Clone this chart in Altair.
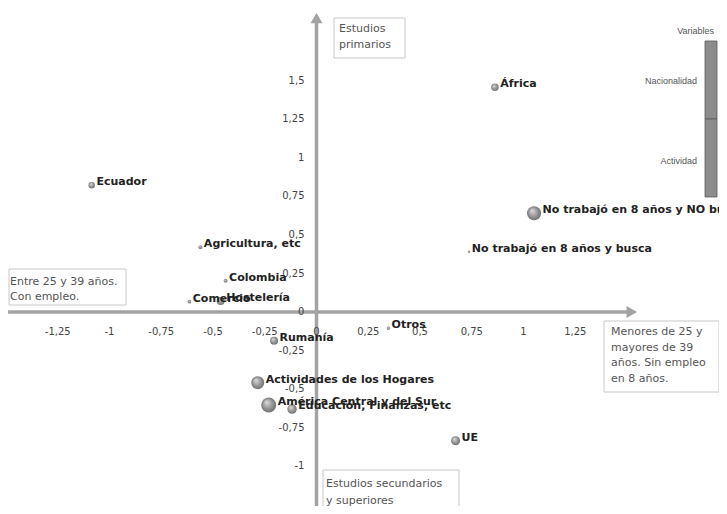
import altair as alt
import pandas as pd

# ---------------- data ----------------
labels = ["África", "Ecuador", "Agricultura, etc", "Colombia", "Comercio", "Hostelería",
          "No trabajó en 8 años y NO busca", "No trabajó en 8 años y busca", "Otros", "Rumanía",
          "Actividades de los Hogares", "América Central y del Sur", "Educación, Finanzas, etc", "UE"]
dim1 = [0.862, -1.086, -0.561, -0.439, -0.614, -0.463, 1.051, 0.737, 0.347, -0.205,
        -0.284, -0.231, -0.118, 0.672]
dim2 = [1.459, 0.823, 0.420, 0.203, 0.067, 0.071, 0.641, 0.392, -0.106, -0.186,
        -0.459, -0.604, -0.630, -0.836]
sizes = [56, 42, 16, 16, 14, 64, 196, 6, 12, 64, 169, 225, 90, 81]

x_ticks = [-1.25, -1, -0.75, -0.5, -0.25, 0, 0.25, 0.5, 0.75, 1, 1.25]
x_tick_labels = ["-1,25", "-1", "-0,75", "-0,5", "-0,25", "0", "0,25", "0,5", "0,75", "1", "1,25"]
y_ticks = [-1, -0.75, -0.5, -0.25, 0, 0.25, 0.5, 0.75, 1, 1.25, 1.5]
y_tick_labels = ["-1", "-0,75", "-0,5", "-0,25", "0", "0,25", "0,5", "0,75", "1", "1,25", "1,5"]

legend_title = "Variables"
legend_items = ["Nacionalidad", "Actividad"]

# ---------------- layout ----------------
W, H = 711, 498
X_DOM = [-1.4903, 1.9444]
Y_DOM = [-1.2597, 1.974]
PX_PER_X = W / (X_DOM[1] - X_DOM[0])
ARROW_X = 1.523   # end of horizontal axis arrow
ARROW_Y = 1.908   # end of vertical axis arrow

AXIS_GRAY = "#a3a3a3"
FONT = "DejaVu Sans"

xs = alt.Scale(domain=X_DOM, nice=False, zero=False)
ys = alt.Scale(domain=Y_DOM, nice=False, zero=False)

def X(f):
    return alt.X(f, scale=xs, axis=None)

def Y(f):
    return alt.Y(f, scale=ys, axis=None)

pts = pd.DataFrame({"label": labels, "x": dim1, "y": dim2, "size": sizes})
one = pd.DataFrame({"k": [0]})

# axis lines with arrows
h_line = alt.Chart(pd.DataFrame({"a": [X_DOM[0]], "b": [ARROW_X], "c": [0.0]})).mark_rule(
    color=AXIS_GRAY, strokeWidth=3.5).encode(x=X("a:Q"), x2="b:Q", y=Y("c:Q"))
v_line = alt.Chart(pd.DataFrame({"a": [0.0], "b": [ARROW_Y], "c": [Y_DOM[0]]})).mark_rule(
    color=AXIS_GRAY, strokeWidth=3.5).encode(x=X("a:Q"), y=Y("b:Q"), y2="c:Q")
arrows = alt.Chart(pd.DataFrame({"a": [ARROW_X, 0.0], "b": [0.0, ARROW_Y],
                                 "s": ["triangle-right", "triangle-up"]})).mark_point(
    filled=True, size=144, color=AXIS_GRAY, opacity=1).encode(
    x=X("a:Q"), y=Y("b:Q"), shape=alt.Shape("s:N", scale=None, legend=None))

# tick labels
xt = pd.DataFrame({"v": x_ticks, "t": x_tick_labels, "z": [0.0] * len(x_ticks)})
yt = pd.DataFrame({"v": y_ticks, "t": y_tick_labels, "z": [0.0] * len(y_ticks)})
x_lab = alt.Chart(xt).mark_text(font=FONT, fontSize=10, color="#444", align="center",
                                baseline="middle", dy=20).encode(
    x=X("v:Q"), y=Y("z:Q"), text="t:N")
y_lab = alt.Chart(yt).mark_text(font=FONT, fontSize=10, color="#444", align="right",
                                baseline="middle", dx=-12).encode(
    y=Y("v:Q"), x=X("z:Q"), text="t:N")

# annotation boxes
def box(x1, y1, x2, y2, fill="white", stroke="#c8c8c8", sw=1):
    return alt.Chart(one).mark_rect(fill=fill, stroke=stroke, strokeWidth=sw).encode(
        x=alt.value(x1), y=alt.value(y1), x2=alt.value(x2), y2=alt.value(y2))

def btext(lines, x, y, lh, size=11, font=FONT, align="left"):
    out = []
    for i, ln in enumerate(lines):
        out.append(alt.Chart(one).mark_text(font=font, fontSize=size, color="#555", align=align,
                                            baseline="alphabetic").encode(
            x=alt.value(x), y=alt.value(y + i * lh), text=alt.value(ln)))
    return out

annots = [
    box(326, 10, 397, 50), *btext(["Estudios", "primarios"], 331, 24, 16),
    box(1, 261, 118, 297), *btext(["Entre 25 y 39 años.", "\u00a0Con empleo."], 2, 277, 15),
    box(596, 313, 711, 384), *btext(["Menores de 25 y", "mayores de 39", "años. Sin empleo", "en 8 años."], 603, 327, 15.7),
    box(315, 462, 451, 520), *btext(["Estudios secundarios", "y superiores"], 318, 479, 17),
]

# legend
legend = [
    *btext([legend_title], 706, 26, 10, size=9, font="Liberation Sans", align="right"),
    box(697, 33, 709, 111, fill="#8c8c8c", stroke="#5a5a5a", sw=0.8),
    box(697, 111, 709, 189, fill="#8c8c8c", stroke="#5a5a5a", sw=0.8),
    *btext([legend_items[0]], 689, 76, 10, size=9, font="Liberation Sans", align="right"),
    *btext([legend_items[1]], 689, 156, 10, size=9, font="Liberation Sans", align="right"),
]

# points (gray spheres)
sphere = alt.RadialGradient(
    gradient="radial",
    stops=[alt.GradientStop(color="#e0e0e0", offset=0),
           alt.GradientStop(color="#9a9a9a", offset=0.55),
           alt.GradientStop(color="#6a6a6a", offset=1)],
    x1=0.35, y1=0.3, r1=0, x2=0.5, y2=0.5, r2=0.55)

markers = alt.Chart(pts).mark_circle(color=sphere, opacity=1).encode(
    x=X("x:Q"), y=Y("y:Q"),
    size=alt.Size("size:Q", scale=None, legend=None))

texts = alt.Chart(pts).transform_calculate(
    lx=f"datum.x + (sqrt(datum.size) / 2 + 1.5) / {PX_PER_X}"
).mark_text(font=FONT, fontSize=11, fontWeight="bold", color="#222",
            align="left", baseline="middle", dy=-3).encode(
    x=X("lx:Q"), y=Y("y:Q"), text="label:N")

chart = alt.layer(
    h_line, v_line, arrows, x_lab, y_lab, *annots,
    *legend, markers, texts
).properties(
    width=W, height=H, padding=0,
    autosize=alt.AutoSizeParams(type="none"),
    background="white"
).configure_view(strokeWidth=0)

chart.save("out.html", embed_options={"renderer": "svg", "actions": False})
